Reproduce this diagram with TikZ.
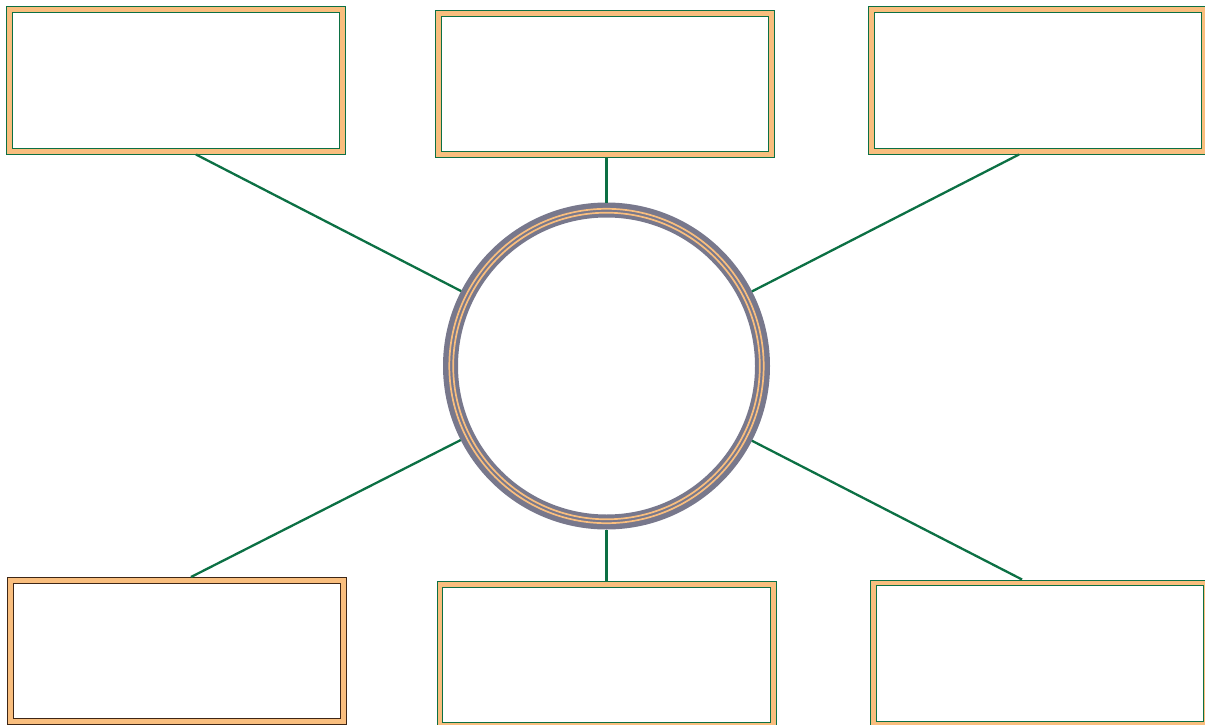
\documentclass[tikz,border=0pt]{standalone}
\usetikzlibrary{calc}
\definecolor{lnk}{RGB}{12,112,68}
\definecolor{band}{RGB}{249,190,126}
\definecolor{ring}{RGB}{120,120,140}
\definecolor{dark}{RGB}{62,38,22}
\begin{document}
\begin{tikzpicture}[x=1pt,y=-1pt,
  box/.style={draw=lnk,line width=1pt,double=band,double distance=4.8pt,fill=white,
    rectangle,minimum width=333.2pt,minimum height=141.2pt,inner sep=0pt,outer sep=3.4pt},
  darkbox/.style={box,draw=dark},
  hub/.style={circle,draw=ring,line width=15pt,fill=white,minimum size=312pt,inner sep=0pt},
  conn/.style={draw=lnk,line width=2.3pt}]
\useasboundingbox (0,0) rectangle (1205,725);
\node[hub] (c) at (606.5,366) {};
\draw[band,line width=1.7pt] (c.center) circle[radius=157.2pt];
\draw[band,line width=1.7pt] (c.center) circle[radius=153.3pt];
\node[box] (tl) at (176,80.5) {};
\node[box] (tm) at (605,84) {};
\node[box] (tr) at (1038,80.5) {};
\node[darkbox] (bl) at (177,651) {};
\node[box] (bm) at (606.5,655) {};
\node[box] (br) at (1040,653.5) {};
\draw[conn] ([xshift=20pt]tl.south) -- (c);
\draw[conn] ([xshift=1.5pt]tm.south) -- (c);
\draw[conn] ([xshift=-19pt]tr.south) -- (c);
\draw[conn] ([xshift=14pt]bl.north) -- (c);
\draw[conn] (bm.north) -- (c);
\draw[conn] ([xshift=-18pt]br.north) -- (c);
\end{tikzpicture}
\end{document}
